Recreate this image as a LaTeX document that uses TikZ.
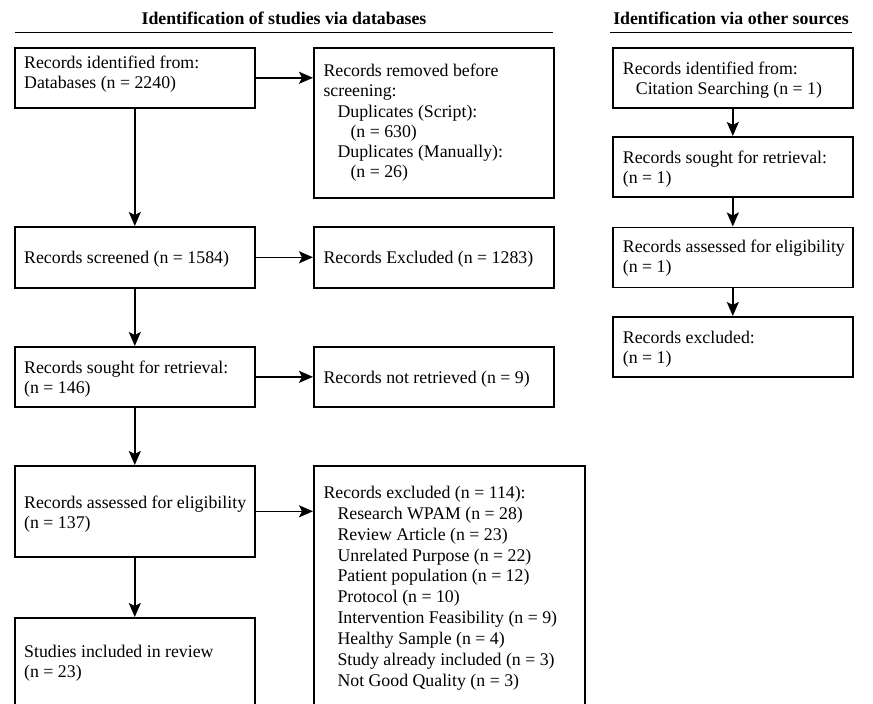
\documentclass[tikz,border=0pt]{standalone}
\usepackage{fontspec}
\setmainfont{Liberation Serif}
\usetikzlibrary{arrows.meta,calc}
\begin{document}
\begin{tikzpicture}[x=1pt,y=-1pt,
  box/.style={draw=black, line width=1.6pt, inner sep=0pt, anchor=north west},
  txt/.style={anchor=base west, inner sep=0pt, align=left, font=\fontsize{17.8}{20.2}\selectfont},
  txtwide/.style={txt, font=\fontsize{17.8}{20.9}\selectfont},
  head/.style={font=\fontsize{17.8}{20}\selectfont\bfseries, inner sep=0pt, anchor=base},
  arr/.style={draw=black, line width=1.6pt, -{Stealth[length=14pt,width=12pt,inset=3pt]}},
  hrule/.style={line width=1.4pt}]
\useasboundingbox (0,0) rectangle (873,704);
\clip (0,0) rectangle (873,704);

% headings
\node[head] (h1) at (284,24.3) {Identification of studies via databases};
\node[head] (h2) at (731,24.3) {Identification via other sources};
\draw[hrule] (14.5,32.3) -- (553,32.3);
\draw[hrule] (610,32.3) -- (852,32.3);

% main column boxes
\node[box, minimum width=240pt, minimum height=60pt] (A) at (14,47) {};
\node[box, minimum width=240pt, minimum height=150pt] (B) at (313,47) {};
\node[box, minimum width=240pt, minimum height=61pt] (C) at (14,226) {};
\node[box, minimum width=240pt, minimum height=61pt] (D) at (313,226) {};
\node[box, minimum width=240pt, minimum height=60pt] (E) at (14,346) {};
\node[box, minimum width=240pt, minimum height=60pt] (F) at (313,346) {};
\node[box, minimum width=240pt, minimum height=91pt] (G) at (14,465) {};
\node[box, minimum width=271pt, minimum height=246pt] (H) at (313,465) {};
\node[box, minimum width=240pt, minimum height=92pt] (I) at (14,617) {};

% right column boxes
\node[box, minimum width=240pt, minimum height=60pt] (R1) at (612,47) {};
\node[box, minimum width=240pt, minimum height=60pt] (R2) at (612,136) {};
\node[box, minimum width=240pt, minimum height=60pt] (R3) at (612,226.5) {};
\node[box, minimum width=240pt, minimum height=60pt] (R4) at (612,316) {};

% texts (anchor = baseline of last line)
\node[txt] (tA) at (24,88.5) {Records identified from:\\Databases (n = 2240)};
\node[txt] (tB) at (323.3,177.7) {Records removed before\\screening:\\\hspace*{14pt}Duplicates (Script):\\\hspace*{27pt}(n = 630)\\\hspace*{14pt}Duplicates (Manually):\\\hspace*{27pt}(n = 26)};
\node[txt] (tC) at (24,263.5) {Records screened (n = 1584)};
\node[txt] (tD) at (323.3,263.5) {Records Excluded (n = 1283)};
\node[txt] (tE) at (24,393.2) {Records sought for retrieval:\\(n = 146)};
\node[txt] (tF) at (323.3,383) {Records not retrieved (n = 9)};
\node[txt] (tG) at (24,528.5) {Records assessed for eligibility\\(n = 137)};
\node[txtwide] (tH) at (323.3,686.4) {Records excluded (n = 114):\\\hspace*{14pt}Research WPAM (n = 28)\\\hspace*{14pt}Review Article (n = 23)\\\hspace*{14pt}Unrelated Purpose (n = 22)\\\hspace*{14pt}Patient population (n = 12)\\\hspace*{14pt}Protocol (n = 10)\\\hspace*{14pt}Intervention Feasibility (n = 9)\\\hspace*{14pt}Healthy Sample (n = 4)\\\hspace*{14pt}Study already included (n = 3)\\\hspace*{14pt}Not Good Quality (n = 3)};
\node[txt] (tI) at (24,677.2) {Studies included in review\\(n = 23)};

\node[txt] (tR1) at (622.7,94.2) {Records identified from:\\\hspace*{13pt}Citation Searching (n = 1)};
\node[txt] (tR2) at (622.7,183.7) {Records sought for retrieval:\\(n = 1)};
\node[txt] (tR3) at (622.7,272.2) {Records assessed for eligibility\\(n = 1)};
\node[txt] (tR4) at (622.7,363.7) {Records excluded:\\(n = 1)};

% connectors
\draw[arr] (A.east) -- (A.east -| B.west);
\draw[arr] (A.south) -- (C.north);
\draw[arr] (C.east) -- (D.west);
\draw[arr] (C.south) -- (E.north);
\draw[arr] (E.east) -- (F.west);
\draw[arr] (E.south) -- (G.north);
\draw[arr] (G.east) -- (G.east -| H.west);
\draw[arr] (G.south) -- (I.north);
\draw[arr] (R1.south) -- (R2.north);
\draw[arr] (R2.south) -- (R3.north);
\draw[arr] (R3.south) -- (R4.north);
\end{tikzpicture}
\end{document}
